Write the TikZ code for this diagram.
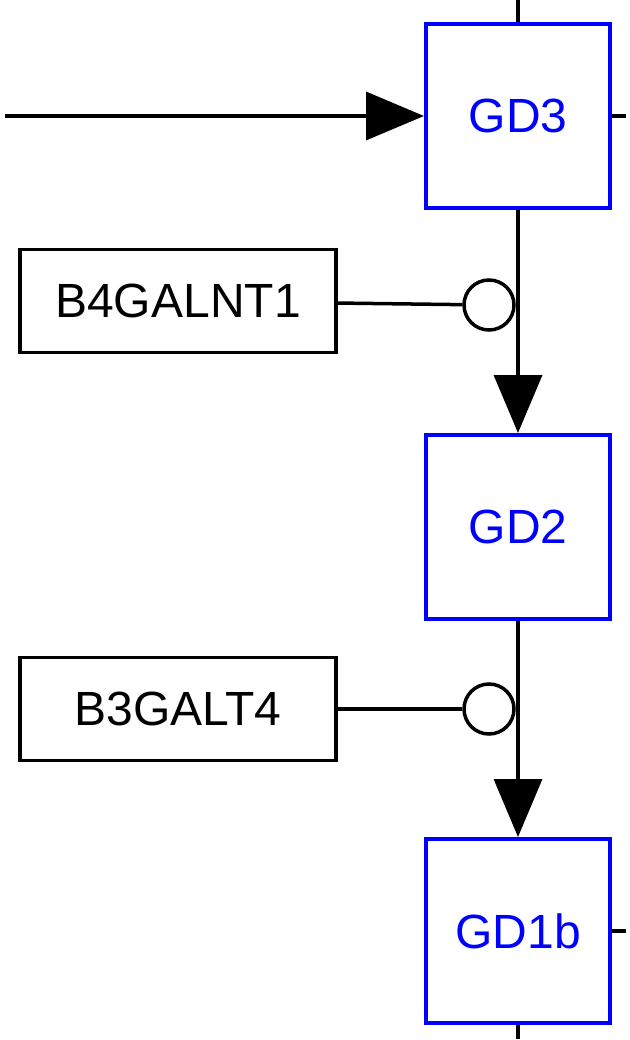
\documentclass[tikz,border=0pt]{standalone}
\usepackage{fontspec}
\setmainfont{Liberation Sans}
\usetikzlibrary{arrows.meta,positioning}

\begin{document}
\begin{tikzpicture}[x=1pt, y=-1pt,
  font=\fontsize{48}{57}\selectfont,
  gly/.style={draw=blue, line width=4pt, text=blue, minimum size=184pt, inner sep=0pt},
  gene/.style={draw, line width=3.5pt, minimum width=316pt, minimum height=103pt, inner sep=0pt},
  enz/.style={draw, circle, line width=3.5pt, fill=white, minimum size=50pt, inner sep=0pt},
  link/.style={line width=3.5pt},
  flow/.style={line width=3.5pt, -{Triangle[length=58pt, width=48pt]}},
  node distance=223pt,
]
\useasboundingbox (0,0) rectangle (629,1040);

% glycolipids
\node[gly] (gd3) at (518,116) {GD3};
\node[gly, below=of gd3] (gd2) {GD2};
\node[gly, below=216pt of gd2] (gd1b) {GD1b};

% enzymes
\node[gene] (b4galnt1) at (178,301) {B4GALNT1};
\node[gene] (b3galt4) at (178,709) {B3GALT4};
\coordinate (in) at (5,116);

% reactions
\draw[flow] (in) -- (gd3);
\draw[flow] (gd3) -- (gd2);
\draw[flow] (gd2) -- (gd1b);
\node[enz] (cat1) at (489,305) {};
\node[enz] (cat2) at (489,709) {};
\draw[link] (b4galnt1) -- (cat1);
\draw[link] (b3galt4) -- (cat2);

% stubs
\draw[link] (gd3.north) -- ++(0,-22);
\draw[link] (gd3.east) -- ++(14,0);
\draw[link] (gd1b.east) -- ++(14,0);
\draw[link] (gd1b.south) -- ++(0,14);
\end{tikzpicture}
\end{document}
